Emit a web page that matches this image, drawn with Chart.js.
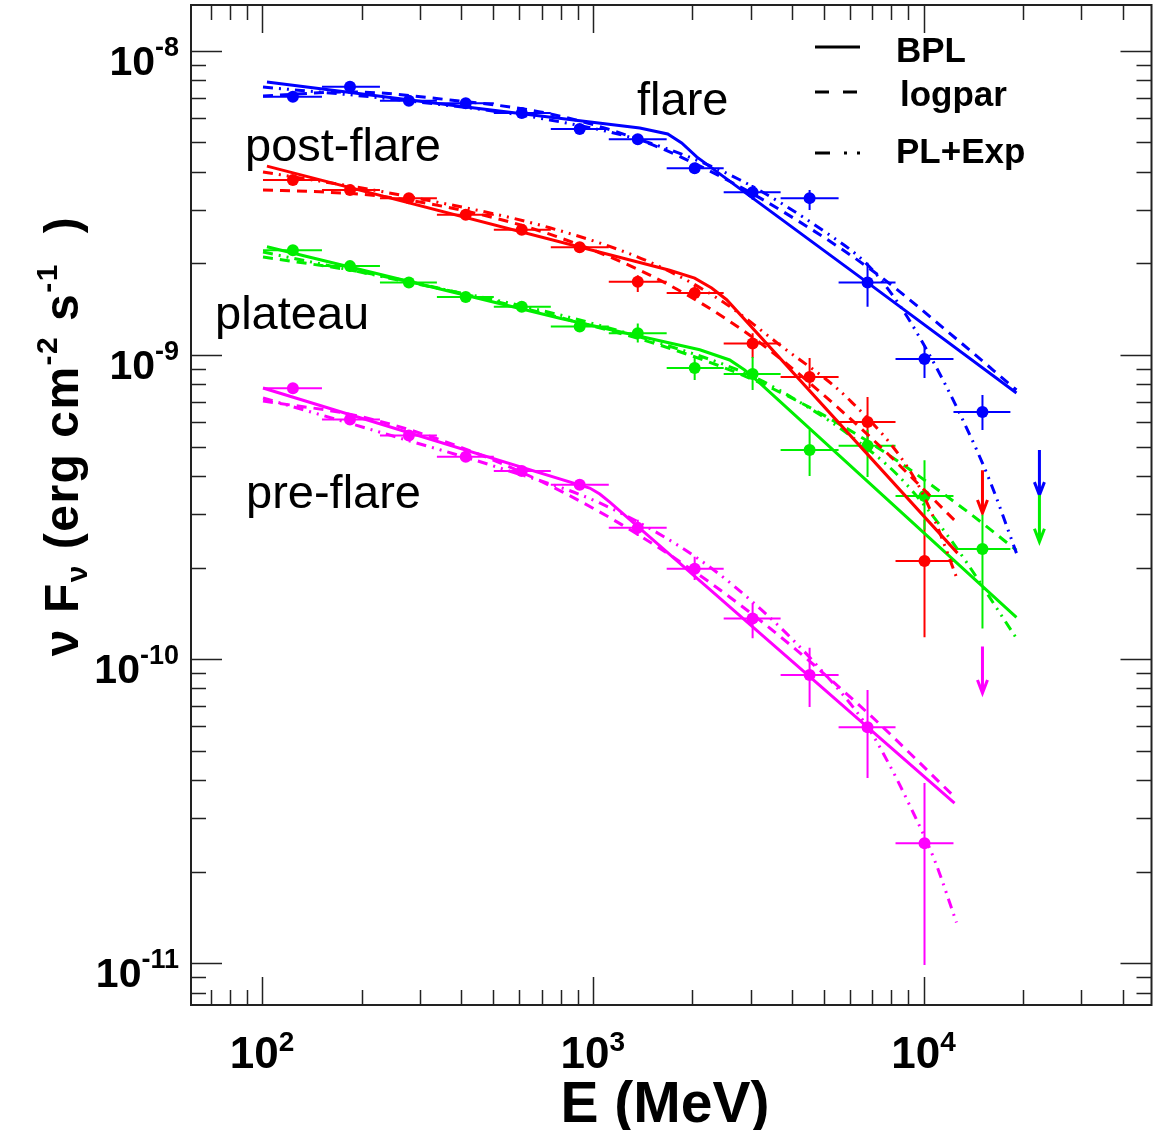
<!DOCTYPE html>
<html>
<head>
<meta charset="utf-8">
<title>Spectral energy distribution</title>
<script src="https://cdn.jsdelivr.net/npm/chart.js@4.4.1/dist/chart.umd.min.js"></script>
<style>
  html, body { margin: 0; padding: 0; background: #fff; }
  #wrap { width: 1153px; height: 1130px; }
</style>
</head>
<body>
<div id="wrap"><canvas id="sed" width="1153" height="1130"></canvas></div>
<script>
const FONT = '"Liberation Sans", Arial, Helvetica, sans-serif';

// Energy bins (MeV)
const binCenters = [124, 184.5, 278, 413, 610, 913, 1368, 2033, 3043, 4525, 6773, 10070, 15075];
const binEdges = [100.7, 151.8, 227.3, 337.9, 502.2, 746.7, 1118, 1673, 2488, 3698, 5537, 8230, 12320, 18310];

// Axis tick labels
const xTickExp = ['2', '3', '4'];
const yTickExp = ['-8', '-9', '-10', '-11'];

// flare (blue)
const flareFlux = [7.07e-9, 7.63e-9, 6.86e-9, 6.73e-9, 6.25e-9, 5.54e-9, 5.12e-9, 4.11e-9, 3.43e-9, 3.28e-9, 1.73e-9, 9.70e-10, 6.49e-10];
const flareLo = [6.91e-9, 7.46e-9, 6.71e-9, 6.58e-9, 6.11e-9, 5.42e-9, 5.00e-9, 3.96e-9, 3.24e-9, 3.00e-9, 1.44e-9, 8.40e-10, 5.67e-10];
const flareHi = [7.23e-9, 7.81e-9, 7.02e-9, 6.89e-9, 6.39e-9, 5.67e-9, 5.24e-9, 4.27e-9, 3.62e-9, 3.49e-9, 2.01e-9, 1.079e-9, 7.39e-10];
const flareUL = [22410, 4.87e-10, 3.46e-10];
const flareBplE = [103.5, 369.8, 1387, 1685, 1857, 2062, 6773, 19100];
const flareBplF = [7.91e-9, 6.64e-9, 5.58e-9, 5.33e-9, 4.98e-9, 4.48e-9, 1.73e-9, 7.50e-10];
const flareLogparE = [100.7, 184.5, 369.8, 741.3, 1387, 2419, 4222, 7364, 11980, 19100];
const flareLogparF = [7.11e-9, 7.33e-9, 6.90e-9, 6.21e-9, 5.10e-9, 3.88e-9, 2.74e-9, 1.82e-9, 1.18e-9, 7.67e-10];
const flareExpE = [100.7, 261.2, 741.3, 1487, 2781, 5092, 6773, 8462, 10430, 12850, 15830, 19100];
const flareExpF = [7.61e-9, 6.90e-9, 5.93e-9, 4.98e-9, 3.77e-9, 2.52e-9, 1.98e-9, 1.46e-9, 1.00e-9, 6.44e-10, 3.88e-10, 2.23e-10];

// post-flare (red)
const postFlux = [3.76e-9, 3.49e-9, 3.28e-9, 2.89e-9, 2.58e-9, 2.26e-9, 1.74e-9, 1.60e-9, 1.09e-9, 8.47e-10, 6.02e-10, 2.10e-10];
const postLo = [3.68e-9, 3.41e-9, 3.21e-9, 2.83e-9, 2.52e-9, 2.21e-9, 1.61e-9, 1.52e-9, 9.77e-10, 7.79e-10, 4.98e-10, 1.18e-10];
const postHi = [3.85e-9, 3.57e-9, 3.36e-9, 2.96e-9, 2.64e-9, 2.31e-9, 1.83e-9, 1.70e-9, 1.18e-9, 9.77e-10, 7.27e-10, 2.87e-10];
const postUL = [15075, 4.18e-10, 3.02e-10];
const postBplE = [103.5, 1708, 2033, 2288, 2540, 12670];
const postBplF = [4.18e-9, 1.90e-9, 1.79e-9, 1.66e-9, 1.52e-9, 2.23e-10];
const postLogparE = [100.7, 149.7, 227.3, 369.8, 601.9, 913.4, 1387, 2106, 3263, 6542, 12580];
const postLogparF = [3.49e-9, 3.44e-9, 3.33e-9, 3.05e-9, 2.68e-9, 2.30e-9, 1.90e-9, 1.49e-9, 1.08e-9, 5.67e-10, 2.82e-10];
const postExpE = [100.7, 261.2, 741.3, 1487, 2419, 3673, 5976, 9265, 10800, 12670];
const postExpF = [4.00e-9, 3.36e-9, 2.62e-9, 2.02e-9, 1.52e-9, 1.08e-9, 7.11e-10, 4.03e-10, 2.87e-10, 1.82e-10];

// plateau (green)
const platFlux = [2.21e-9, 1.96e-9, 1.73e-9, 1.55e-9, 1.44e-9, 1.24e-9, 1.18e-9, 9.06e-10, 8.66e-10, 4.87e-10, 5.03e-10, 3.44e-10, 2.30e-10];
const platLo = [2.16e-9, 1.92e-9, 1.69e-9, 1.52e-9, 1.41e-9, 1.21e-9, 1.10e-9, 8.28e-10, 7.67e-10, 4.00e-10, 3.97e-10, 2.66e-10, 1.26e-10];
const platHi = [2.26e-9, 2.01e-9, 1.77e-9, 1.59e-9, 1.47e-9, 1.27e-9, 1.27e-9, 9.77e-10, 9.85e-10, 5.67e-10, 5.67e-10, 4.51e-10, 2.98e-10];
const platUL = [22410, 3.46e-10, 2.43e-10];
const platBplE = [103.5, 795, 2106, 2594, 2879, 3195, 19100];
const platBplF = [2.27e-9, 1.32e-9, 1.04e-9, 9.63e-10, 8.93e-10, 8.09e-10, 1.37e-10];
const platLogparE = [100.7, 201.9, 404.9, 811.8, 1627, 3263, 6542, 13120, 19100];
const platLogparF = [2.10e-9, 1.87e-9, 1.59e-9, 1.32e-9, 1.07e-9, 8.03e-10, 5.33e-10, 3.14e-10, 2.28e-10];
const platExpE = [100.7, 261.2, 741.3, 1487, 2981, 4222, 5976, 8462, 11980, 19100];
const platExpF = [2.18e-9, 1.76e-9, 1.38e-9, 1.12e-9, 8.59e-10, 7.00e-10, 5.45e-10, 3.97e-10, 2.50e-10, 1.17e-10];

// pre-flare (magenta)
const preFlux = [7.77e-10, 6.14e-10, 5.43e-10, 4.63e-10, 4.15e-10, 3.74e-10, 2.70e-10, 1.98e-10, 1.36e-10, 8.86e-11, 5.97e-11, 2.48e-11];
const preLo = [7.60e-10, 6.00e-10, 5.31e-10, 4.53e-10, 4.06e-10, 3.66e-10, 2.54e-10, 1.82e-10, 1.17e-10, 6.95e-11, 4.06e-11, 9.85e-12];
const preHi = [7.95e-10, 6.28e-10, 5.55e-10, 4.74e-10, 4.25e-10, 3.83e-10, 2.87e-10, 2.17e-10, 1.53e-10, 1.09e-10, 7.91e-11, 3.91e-11];
const preUL = [15075, 1.10e-10, 7.73e-11];
const preBplE = [100.7, 979.3, 1050, 1126, 12410];
const preBplF = [7.79e-10, 3.65e-10, 3.49e-10, 3.28e-10, 3.36e-11];
const preLogparE = [100.7, 201.9, 404.9, 811.8, 1627, 3263, 6726, 12410];
const preLogparF = [7.06e-10, 6.25e-10, 4.94e-10, 3.54e-10, 2.28e-10, 1.32e-10, 6.70e-11, 3.52e-11];
const preExpE = [100.7, 261.2, 523.6, 1050, 2106, 3355, 4751, 6773, 7894, 9073, 10800, 12580];
const preExpF = [7.22e-10, 5.33e-10, 4.25e-10, 3.26e-10, 2.12e-10, 1.40e-10, 9.56e-11, 5.98e-11, 4.48e-11, 3.31e-11, 2.18e-11, 1.36e-11];

const series = [
  { color: '#0000ff', flux: flareFlux, lo: flareLo, hi: flareHi, ul: flareUL,
    bpl: [flareBplE, flareBplF], logpar: [flareLogparE, flareLogparF], plexp: [flareExpE, flareExpF] },
  { color: '#ff0000', flux: postFlux, lo: postLo, hi: postHi, ul: postUL,
    bpl: [postBplE, postBplF], logpar: [postLogparE, postLogparF], plexp: [postExpE, postExpF] },
  { color: '#00ee00', flux: platFlux, lo: platLo, hi: platHi, ul: platUL,
    bpl: [platBplE, platBplF], logpar: [platLogparE, platLogparF], plexp: [platExpE, platExpF] },
  { color: '#ff00ff', flux: preFlux, lo: preLo, hi: preHi, ul: preUL,
    bpl: [preBplE, preBplF], logpar: [preLogparE, preLogparF], plexp: [preExpE, preExpF] }
];

function pairs(xs, ys) {
  return xs.map((x, i) => ({ x: x, y: ys[i] }));
}

// Build datasets: model curves first, then the data points on top
let datasets = [];
series.forEach(s => {
  datasets.push({ data: pairs(s.bpl[0], s.bpl[1]), showLine: true, borderColor: s.color,
    borderWidth: 3, pointRadius: 0, tension: 0 });
  datasets.push({ data: pairs(s.logpar[0], s.logpar[1]), showLine: true, borderColor: s.color,
    borderWidth: 3, pointRadius: 0, borderDash: [10, 7], cubicInterpolationMode: 'monotone' });
  datasets.push({ data: pairs(s.plexp[0], s.plexp[1]), showLine: true, borderColor: s.color,
    borderWidth: 3, pointRadius: 0, borderDash: [10, 6, 2, 6, 2, 6], cubicInterpolationMode: 'monotone' });
});
series.forEach(s => {
  datasets.push({ data: pairs(binCenters.slice(0, s.flux.length), s.flux), showLine: false,
    pointRadius: 6, pointBorderWidth: 0, backgroundColor: s.color, borderColor: s.color });
});

// Error bars and upper-limit arrows
const errorBars = {
  id: 'errorBars',
  beforeDatasetsDraw(chart) {
    const ctx = chart.ctx, xs = chart.scales.x, ys = chart.scales.y;
    ctx.save();
    series.forEach(s => {
      ctx.strokeStyle = s.color;
      ctx.lineWidth = 2;
      s.flux.forEach((f, i) => {
        const px = xs.getPixelForValue(binCenters[i]);
        const py = ys.getPixelForValue(f);
        ctx.beginPath();
        ctx.moveTo(xs.getPixelForValue(binEdges[i]), py);
        ctx.lineTo(xs.getPixelForValue(binEdges[i + 1]), py);
        ctx.moveTo(px, ys.getPixelForValue(s.hi[i]));
        ctx.lineTo(px, ys.getPixelForValue(s.lo[i]));
        ctx.stroke();
      });
      const ux = xs.getPixelForValue(s.ul[0]);
      const top = ys.getPixelForValue(s.ul[1]);
      const tip = ys.getPixelForValue(s.ul[2]);
      ctx.lineWidth = 3;
      ctx.beginPath();
      ctx.moveTo(ux, top);
      ctx.lineTo(ux, tip);
      ctx.moveTo(ux - 5, tip - 13);
      ctx.lineTo(ux, tip);
      ctx.lineTo(ux + 5, tip - 13);
      ctx.stroke();
    });
    ctx.restore();
  }
};

function logTicks(min, max) {
  let out = [];
  for (let d = Math.floor(Math.log10(min)); d <= Math.ceil(Math.log10(max)); d++) {
    for (let m = 1; m <= 9; m++) {
      const v = m * Math.pow(10, d);
      if (v >= min && v <= max) out.push({ v: v, major: m === 1 });
    }
  }
  return out;
}

// "10" with a superscript exponent
function drawPower(ctx, exp, x, y, size, supSize, raise, align) {
  ctx.font = 'bold ' + size + 'px ' + FONT;
  const w1 = ctx.measureText('10').width;
  ctx.font = 'bold ' + supSize + 'px ' + FONT;
  const w2 = ctx.measureText(exp).width;
  const x0 = align === 'right' ? x - w1 - w2 : x - (w1 + w2) / 2;
  ctx.font = 'bold ' + size + 'px ' + FONT;
  ctx.fillText('10', x0, y);
  ctx.font = 'bold ' + supSize + 'px ' + FONT;
  ctx.fillText(exp, x0 + w1, y - raise);
}

// draw a row of text pieces (with sub/superscripts) starting at x
function drawPieces(ctx, pieces, x, y) {
  let cx = x;
  pieces.forEach(p => {
    ctx.font = 'bold ' + p.s + 'px ' + FONT;
    ctx.fillText(p.t, cx, y + (p.dy || 0));
    cx += ctx.measureText(p.t).width;
  });
}
function piecesWidth(ctx, pieces) {
  let w = 0;
  pieces.forEach(p => {
    ctx.font = 'bold ' + p.s + 'px ' + FONT;
    w += ctx.measureText(p.t).width;
  });
  return w;
}

// Frame, inward ticks, labels, legend
const frame = {
  id: 'frame',
  afterDraw(chart) {
    const ctx = chart.ctx, xs = chart.scales.x, ys = chart.scales.y;
    const a = chart.chartArea;
    ctx.save();
    ctx.strokeStyle = '#222';
    ctx.lineWidth = 2;
    ctx.strokeRect(a.left, a.top, a.right - a.left, a.bottom - a.top);

    ctx.lineWidth = 1.5;
    ctx.beginPath();
    logTicks(xs.min, xs.max).forEach(t => {
      const px = Math.round(xs.getPixelForValue(t.v)) + 0.5;
      const len = t.major ? 28 : 15;
      ctx.moveTo(px, a.bottom); ctx.lineTo(px, a.bottom - len);
      ctx.moveTo(px, a.top); ctx.lineTo(px, a.top + len);
    });
    logTicks(ys.min, ys.max).forEach(t => {
      const py = Math.round(ys.getPixelForValue(t.v)) + 0.5;
      const len = t.major ? 31 : 15;
      ctx.moveTo(a.left, py); ctx.lineTo(a.left + len, py);
      ctx.moveTo(a.right, py); ctx.lineTo(a.right - len, py);
    });
    ctx.stroke();

    ctx.fillStyle = '#000';
    ctx.textAlign = 'left';
    ctx.textBaseline = 'alphabetic';
    xTickExp.forEach(e => {
      const px = xs.getPixelForValue(Math.pow(10, +e));
      drawPower(ctx, e, px, 1068, 44, 28, 17, 'center');
    });
    yTickExp.forEach(e => {
      const py = ys.getPixelForValue(Math.pow(10, +e));
      drawPower(ctx, e, 179, py + 24, 41, 27, 19, 'right');
    });

    // axis titles
    ctx.font = 'bold 57px ' + FONT;
    ctx.textAlign = 'center';
    ctx.fillText('E (MeV)', 665, 1122);
    ctx.textAlign = 'left';

    const yTitle = [
      { t: '\u03bd ', s: 48 }, { t: 'F', s: 48 }, { t: '\u03bd', s: 30, dy: 9 },
      { t: ' (erg cm', s: 48 }, { t: '-2', s: 30, dy: -21 }, { t: ' s', s: 48 },
      { t: '-1', s: 30, dy: -21 }, { t: '  )', s: 48 }
    ];
    ctx.save();
    ctx.translate(78, 436);
    ctx.rotate(-Math.PI / 2);
    ctx.letterSpacing = '1.5px';
    drawPieces(ctx, yTitle, -piecesWidth(ctx, yTitle) / 2, 0);
    ctx.restore();

    // series labels
    ctx.font = '47px ' + FONT;
    ctx.fillText('flare', 637, 115);
    ctx.fillText('post-flare', 245, 161);
    ctx.fillText('plateau', 215, 329);
    ctx.fillText('pre-flare', 246, 508);

    // legend
    ctx.strokeStyle = '#000';
    ctx.lineWidth = 3;
    ctx.beginPath();
    ctx.moveTo(815, 47); ctx.lineTo(860, 47);
    ctx.moveTo(815, 92); ctx.lineTo(829, 92);
    ctx.moveTo(843, 92); ctx.lineTo(857, 92);
    ctx.moveTo(815, 153); ctx.lineTo(830, 153);
    ctx.moveTo(844, 153); ctx.lineTo(847, 153);
    ctx.moveTo(857, 153); ctx.lineTo(860, 153);
    ctx.stroke();
    ctx.font = 'bold 35px ' + FONT;
    ctx.fillText('BPL', 896, 62);
    ctx.fillText('logpar', 900, 106);
    ctx.fillText('PL+Exp', 896, 163);
    ctx.restore();
  }
};

new Chart(document.getElementById('sed'), {
  type: 'scatter',
  data: { datasets: datasets },
  options: {
    responsive: false,
    animation: false,
    layout: { autoPadding: false, padding: { left: 191, right: 1.5, top: 5, bottom: 125 } },
    plugins: { legend: { display: false }, tooltip: { enabled: false } },
    scales: {
      x: { type: 'logarithmic', min: 61, max: 48900, display: false },
      y: { type: 'logarithmic', min: 7.28e-12, max: 1.416e-8, display: false }
    }
  },
  plugins: [errorBars, frame]
});
</script>
</body>
</html>
